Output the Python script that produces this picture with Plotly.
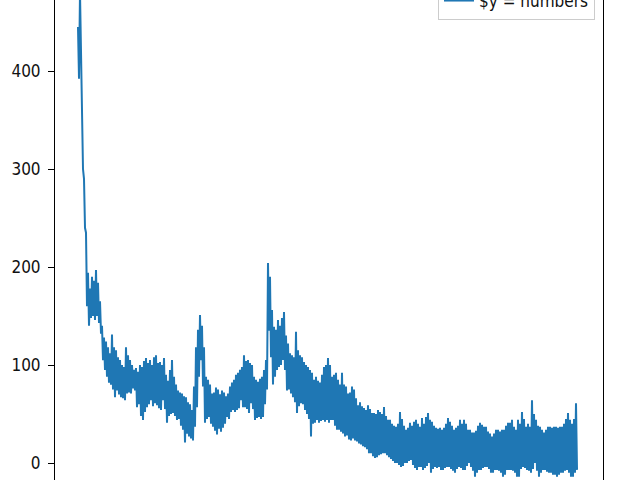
import plotly.graph_objects as go

# Readings: upper envelope at even positions, lower envelope
# at the odd position that follows each one (1 step = 1 px of the original).
upper = [
    445, 480, 365, 290, 235, 194, 178, 190, 186, 197,
    184, 165, 140, 128, 124, 118, 112, 131, 118, 115,
    108, 105, 100, 98, 118, 110, 105, 100, 95, 97,
    93, 100, 98, 104, 107, 102, 105, 100, 108, 110,
    102, 103, 100, 107, 90, 84, 95, 105, 88, 80,
    74, 72, 71, 68, 67, 62, 60, 54, 78, 118,
    136, 151, 140, 118, 88, 85, 80, 71, 72, 77,
    75, 70, 74, 72, 68, 71, 78, 82, 85, 90,
    92, 95, 98, 110, 104, 105, 102, 100, 88, 85,
    83, 86, 88, 95, 105, 204, 190, 156, 139, 136,
    146, 140, 148, 154, 130, 122, 112, 110, 108, 134,
    115, 110, 108, 103, 100, 98, 95, 92, 85, 88,
    84, 82, 90, 98, 100, 107, 100, 88, 90, 92,
    85, 80, 92, 80, 78, 71, 72, 78, 75, 66,
    59, 62, 58, 56, 54, 59, 55, 51, 51, 50,
    54, 52, 50, 57, 48, 44, 44, 40, 38, 37,
    40, 52, 45, 38, 34, 36, 41, 38, 42, 44,
    40, 37, 46, 40, 47, 51, 44, 42, 38, 36,
    35, 36, 34, 36, 40, 46, 42, 38, 34, 36,
    38, 44, 40, 44, 40, 34, 34, 31, 31, 33,
    38, 41, 39, 37, 37, 32, 30, 27, 30, 34,
    34, 32, 34, 34, 38, 41, 41, 44, 37, 34,
    44, 40, 52, 45, 37, 40, 37, 64, 50, 44,
    38, 37, 34, 31, 34, 37, 37, 36, 37, 37,
    36, 37, 37, 40, 45, 51, 44, 40, 45, 61,
]
lower = [
    392, 400, 300, 240, 160, 140, 148, 150, 146, 150,
    143, 132, 105, 95, 88, 82, 80, 75, 67, 74,
    70, 67, 66, 64, 71, 72, 71, 76, 74, 57,
    60, 48, 44, 52, 57, 60, 64, 58, 61, 59,
    56, 54, 64, 55, 41, 48, 50, 51, 48, 44,
    45, 38, 34, 21, 30, 27, 25, 23, 37, 57,
    88, 105, 78, 41, 45, 47, 40, 37, 33, 29,
    35, 32, 36, 40, 47, 45, 52, 54, 52, 54,
    56, 64, 57, 57, 55, 51, 61, 55, 44, 46,
    47, 45, 47, 60, 75, 135, 108, 80, 88, 95,
    98, 100, 105, 95, 74, 75, 71, 67, 62, 51,
    58, 61, 60, 54, 50, 45, 27, 40, 41, 44,
    41, 43, 44, 42, 44, 41, 44, 44, 38, 34,
    34, 32, 30, 27, 28, 24, 23, 25, 23, 22,
    20, 19, 17, 16, 14, 10, 10, 7, 5, 6,
    8, 9, 10, 10, 8, 6, 4, 2, 0, 0,
    -2, -4, -3, 0, 0, 2, 3, -2, -5, -7,
    -4, -4, -7, -5, -3, 0, -10, -6, -4, -5,
    -4, -7, -7, -5, -4, -4, -6, -8, -10, -6,
    -4, -5, -7, -7, -3, 0, -4, -8, -14, -10,
    -7, -7, -5, -4, -4, -6, -10, -10, -7, -7,
    -8, -10, -14, -12, -7, -7, -7, -8, -10, -14,
    -14, -6, -4, -5, -7, -8, -10, -6, 0, -8,
    -14, -10, -7, -7, -9, -10, -10, -12, -12, -14,
    -12, -10, -10, -8, -7, -10, -14, -14, -10, -7,
]
y_ticks = [0, 100, 200, 300, 400]
legend_label = "$y = numbers"

# the series: readings in order along the x axis
numbers = []
for hi, lo in zip(upper, lower):
    numbers.extend([hi, lo])
x_index = list(range(len(numbers)))

tick_font = dict(family="DejaVu Sans Condensed, DejaVu Sans", size=17, color="#111111")

fig = go.Figure()
fig.add_trace(go.Scatter(
    x=x_index, y=numbers, mode="lines", name=legend_label,
    line=dict(color="#1f77b4", width=2), showlegend=True,
))

fig.update_layout(
    width=640, height=480,
    margin=dict(l=55, r=37, t=0, b=0, autoexpand=False),
    plot_bgcolor="white", paper_bgcolor="white",
    font=tick_font,
    showlegend=True,
    legend=dict(
        x=(595 - 55) / 548, xanchor="right",
        y=(480 - 20) / 480, yanchor="bottom",
        bgcolor="rgba(255,255,255,0.8)", bordercolor="#cccccc", borderwidth=1,
        font=tick_font,
    ),
    xaxis=dict(
        range=[-23, 525], showgrid=False, zeroline=False,
        showticklabels=False, showline=False, ticks="",
    ),
    yaxis=dict(
        range=[(463 - 480) / 0.98, 463 / 0.98],
        tickvals=y_ticks, ticktext=[str(v) for v in y_ticks],
        showgrid=False, zeroline=False,
        showline=True, linecolor="black", linewidth=1, mirror=True,
        ticks="outside", ticklen=6, tickcolor="black", tickwidth=1,
        ticklabelstandoff=4, tickfont=tick_font,
    ),
)

fig.write_html("out.html", config={"displayModeBar": False},
               post_script="document.body.style.margin='0px';")
